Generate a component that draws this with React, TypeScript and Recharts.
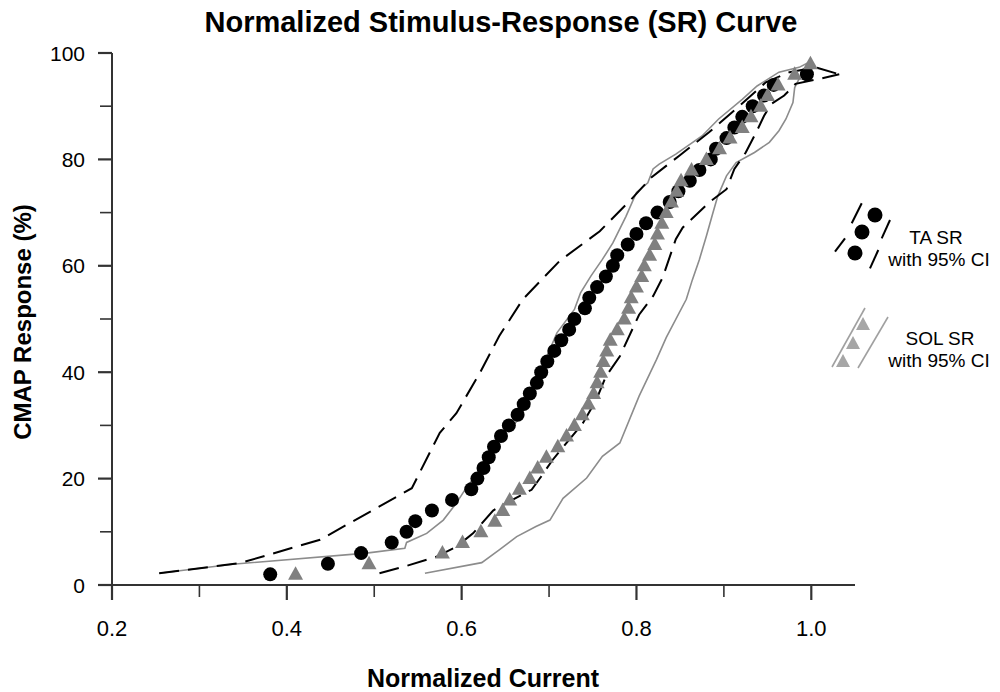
import { ComposedChart, XAxis, YAxis, Line, Scatter } from "recharts"

// TA stimulus-response points (black circles)
const taCurrent = [
  0.381, 0.447, 0.485, 0.52, 0.537, 0.547, 0.566, 0.589, 0.611, 0.618, 0.625, 0.631, 0.637, 0.645, 0.654, 0.664,
  0.671, 0.678, 0.686, 0.691, 0.698, 0.706, 0.714, 0.723, 0.729, 0.741, 0.746, 0.755, 0.765, 0.773, 0.778, 0.79,
  0.8, 0.811, 0.824, 0.838, 0.848, 0.861, 0.872, 0.885, 0.891, 0.903, 0.912, 0.921, 0.933, 0.946, 0.957, 0.995,
]
const taResponse = [
  2, 4, 6, 8, 10, 12, 14, 16, 18, 20, 22, 24, 26, 28, 30, 32, 34, 36, 38, 40, 42, 44, 46, 48, 50, 52, 54, 56, 58, 60,
  62, 64, 66, 68, 70, 72, 74, 76, 78, 80, 82, 84, 86, 88, 90, 92, 94, 96,
]

// SOL stimulus-response points (grey triangles)
const solCurrent = [
  0.41, 0.494, 0.578, 0.601, 0.622, 0.638, 0.647, 0.655, 0.666, 0.678, 0.687, 0.697, 0.71, 0.72, 0.729, 0.738,
  0.745, 0.751, 0.755, 0.759, 0.762, 0.766, 0.77, 0.778, 0.786, 0.791, 0.794, 0.8, 0.806, 0.809, 0.815, 0.821,
  0.824, 0.829, 0.834, 0.84, 0.846, 0.851, 0.863, 0.88, 0.895, 0.907, 0.921, 0.931, 0.942, 0.95, 0.962, 0.981, 0.999,
]
const solResponse = [
  2, 4, 6, 8, 10, 12, 14, 16, 18, 20, 22, 24, 26, 28, 30, 32, 34, 36, 38, 40, 42, 44, 46, 48, 50, 52, 54, 56, 58, 60,
  62, 64, 66, 68, 70, 72, 74, 76, 78, 80, 82, 84, 86, 88, 90, 92, 94, 96, 98,
]

// TA 95% CI (dashed black)
const taUpperX = [
  0.254, 0.346, 0.438, 0.543, 0.575, 0.594, 0.621, 0.643, 0.67, 0.712, 0.758, 0.794, 0.817, 0.849, 0.883, 0.918,
  0.948, 0.975, 1.005, 1.032,
]
const taUpperY = [2.2, 4.1, 8.5, 18.2, 28.6, 32.3, 39.9, 46.8, 53.7, 60.9, 66.5, 72.5, 76.6, 80.7, 85.1, 90.1, 94.5, 96.4, 97.3, 96]
const taLowerX = [
  0.506, 0.537, 0.571, 0.594, 0.613, 0.636, 0.651, 0.68, 0.691, 0.704, 0.72, 0.739, 0.754, 0.765, 0.781, 0.803,
  0.819, 0.83, 0.845, 0.853, 0.883, 0.903, 0.912, 0.925, 0.937, 0.946, 0.954, 0.969, 0.982, 1.011, 1.032,
]
const taLowerY = [
  2.2, 3.6, 5.3, 7.2, 9.7, 14, 15.4, 17.9, 20.4, 23.5, 26.7, 30.5, 34.8, 39.2, 43, 50.8, 54.3, 57.8, 65, 67.2, 71.9,
  74.4, 78.2, 81.3, 85.1, 88.2, 90.4, 92, 94.2, 95.2, 96,
]

// SOL 95% CI (solid grey)
const solUpperX = [
  0.254, 0.338, 0.491, 0.535, 0.537, 0.56, 0.579, 0.594, 0.605, 0.618, 0.631, 0.645, 0.654, 0.661, 0.667, 0.676,
  0.683, 0.695, 0.709, 0.729, 0.736, 0.748, 0.761, 0.773, 0.788, 0.8, 0.813, 0.819, 0.826, 0.845, 0.875, 0.894,
  0.921, 0.938, 0.963, 0.986, 0.997,
]
const solUpperY = [
  2.2, 3.9, 6, 6.9, 8, 9.7, 12.2, 15.4, 18.2, 21, 25, 28.5, 29.8, 30.4, 31.5, 34.8, 38, 42, 47.4, 51.8, 54.9, 58.1,
  61.2, 64.3, 69.3, 73.8, 75.6, 78.2, 79.1, 81, 84.4, 87.6, 91.3, 93.8, 96.4, 97.3, 98.2,
]
const solLowerX = [
  0.558, 0.623, 0.643, 0.663, 0.685, 0.701, 0.716, 0.743, 0.761, 0.781, 0.803, 0.823, 0.834, 0.857, 0.864, 0.872,
  0.88, 0.887, 0.893, 0.903, 0.914, 0.935, 0.952, 0.963, 0.971, 0.979, 0.981, 0.99, 0.998,
]
const solLowerY = [
  2.2, 4.2, 6.6, 9.1, 11, 12.2, 16.3, 20.1, 24.2, 26.7, 35.5, 42.4, 46.5, 53.7, 57.4, 61.2, 65.6, 69.7, 73.1, 76.9,
  79.4, 81.3, 83.2, 85.4, 87.6, 90.7, 93.5, 96.4, 97.9,
]

const xTicks = [0.2, 0.3, 0.4, 0.5, 0.6, 0.7, 0.8, 0.9, 1.0]
const yTicks = [0, 10, 20, 30, 40, 50, 60, 70, 80, 90, 100]

const zip = (xs: number[], ys: number[]) => xs.map((x, i) => ({ x, y: ys[i] }))

const taPoints = zip(taCurrent, taResponse)
const solPoints = zip(solCurrent, solResponse)
const taUpper = zip(taUpperX, taUpperY)
const taLower = zip(taLowerX, taLowerY)
const solUpper = zip(solUpperX, solUpperY)
const solLower = zip(solLowerX, solLowerY)

const FONT = "Arial, 'Liberation Sans', sans-serif"
const AXIS = "#333"
const GREY_LINE = "#8c8c8c"
const GREY_MARK = "#808080"

const YTick = ({ x, y, payload }: any) => {
  const major = payload.value % 20 === 0
  return (
    <g>
      <line x1={x - (major ? 14 : 12)} x2={x} y1={y} y2={y} stroke={AXIS} strokeWidth={major ? 2.2 : 1.6} />
      {major && (
        <text x={x - 27} y={y + 7.5} textAnchor="end" fontSize={21} fontFamily={FONT} fill="#000">
          {payload.value}
        </text>
      )}
    </g>
  )
}

const XTick = ({ x, y, payload }: any) => {
  const major = Math.round(payload.value * 10) % 2 === 0
  return (
    <g>
      <line x1={x} x2={x} y1={y} y2={y + (major ? 15 : 12)} stroke={AXIS} strokeWidth={major ? 2.2 : 1.6} />
      {major && (
        <text x={x} y={y + 51} textAnchor="middle" fontSize={22} fontFamily={FONT} fill="#000">
          {payload.value.toFixed(1)}
        </text>
      )}
    </g>
  )
}

const Dot = ({ cx, cy }: any) => <circle cx={cx} cy={cy} r={7} fill="#000" />

const Tri = ({ cx, cy }: any) => (
  <polygon points={`${cx},${cy - 8} ${cx - 7.5},${cy + 5.5} ${cx + 7.5},${cy + 5.5}`} fill={GREY_MARK} />
)

const Legend = () => (
  <g fontFamily={FONT} fontSize={19} fill="#000">
    <line x1={861.7} y1={203.3} x2={851.7} y2={223.3} stroke="#000" strokeWidth={2} />
    <line x1={845} y1={238.3} x2={835} y2={251.7} stroke="#000" strokeWidth={2} />
    <line x1={890} y1={220} x2={881.7} y2={238.3} stroke="#000" strokeWidth={2} />
    <line x1={878.3} y1={250} x2={870} y2={268.3} stroke="#000" strokeWidth={2} />
    <circle cx={875} cy={215} r={7.5} fill="#000" />
    <circle cx={862} cy={232} r={7.5} fill="#000" />
    <circle cx={855} cy={253} r={7.5} fill="#000" />
    <text x={936} y={244} textAnchor="middle">TA SR</text>
    <text x={939} y={266} textAnchor="middle">with 95% CI</text>

    <line x1={865} y1={308} x2={832} y2={367} stroke="#a0a0a0" strokeWidth={1.6} />
    <line x1={888} y1={317} x2={858} y2={368} stroke="#a0a0a0" strokeWidth={1.6} />
    <polygon points="863,317 856,330 870,330" fill="#a6a6a6" />
    <polygon points="853,336 846,349 860,349" fill="#a6a6a6" />
    <polygon points="843,354 836,367 850,367" fill="#a6a6a6" />
    <text x={940} y={345} textAnchor="middle">SOL SR</text>
    <text x={939} y={367} textAnchor="middle">with 95% CI</text>
  </g>
)

export default function App() {
  return (
    <div style={{ position: "absolute", left: 0, top: 0, width: 1000, height: 692, background: "#fff" }}>
      <ComposedChart width={1000} height={692} margin={{ top: 53, right: 145, bottom: 0, left: 12 }}>
        <XAxis
          type="number"
          dataKey="x"
          domain={[0.2, 1.05]}
          ticks={xTicks}
          height={107}
          tickSize={0}
          tickMargin={0}
          tickLine={false}
          axisLine={{ stroke: AXIS, strokeWidth: 2 }}
          tick={<XTick />}
          allowDataOverflow
        />
        <YAxis
          type="number"
          dataKey="y"
          domain={[0, 100]}
          ticks={yTicks}
          width={100}
          tickSize={0}
          tickMargin={0}
          tickLine={false}
          axisLine={{ stroke: AXIS, strokeWidth: 2 }}
          tick={<YTick />}
        />
        <Line data={solUpper} dataKey="y" type="linear" stroke={GREY_LINE} strokeWidth={1.6} dot={false} isAnimationActive={false} />
        <Line data={solLower} dataKey="y" type="linear" stroke={GREY_LINE} strokeWidth={1.6} dot={false} isAnimationActive={false} />
        <Line data={taUpper} dataKey="y" type="linear" stroke="#000" strokeWidth={2} strokeDasharray="20 9" dot={false} isAnimationActive={false} />
        <Line data={taLower} dataKey="y" type="linear" stroke="#000" strokeWidth={2} strokeDasharray="20 9" dot={false} isAnimationActive={false} />
        <Scatter data={taPoints} dataKey="y" shape={<Dot />} isAnimationActive={false} />
        <Scatter data={solPoints} dataKey="y" shape={<Tri />} isAnimationActive={false} />
      </ComposedChart>
      <svg width={1000} height={692} style={{ position: "absolute", left: 0, top: 0, pointerEvents: "none" }}>
        <text x={501} y={32} textAnchor="middle" fontFamily={FONT} fontSize={29} fontWeight="bold">
          Normalized Stimulus-Response (SR) Curve
        </text>
        <text x={483} y={687} textAnchor="middle" fontFamily={FONT} fontSize={25} fontWeight="bold">
          Normalized Current
        </text>
        <text x={31} y={322} textAnchor="middle" fontFamily={FONT} fontSize={24} fontWeight="bold" transform="rotate(-90 31 322)">
          CMAP Response (%)
        </text>
        <Legend />
      </svg>
    </div>
  )
}
